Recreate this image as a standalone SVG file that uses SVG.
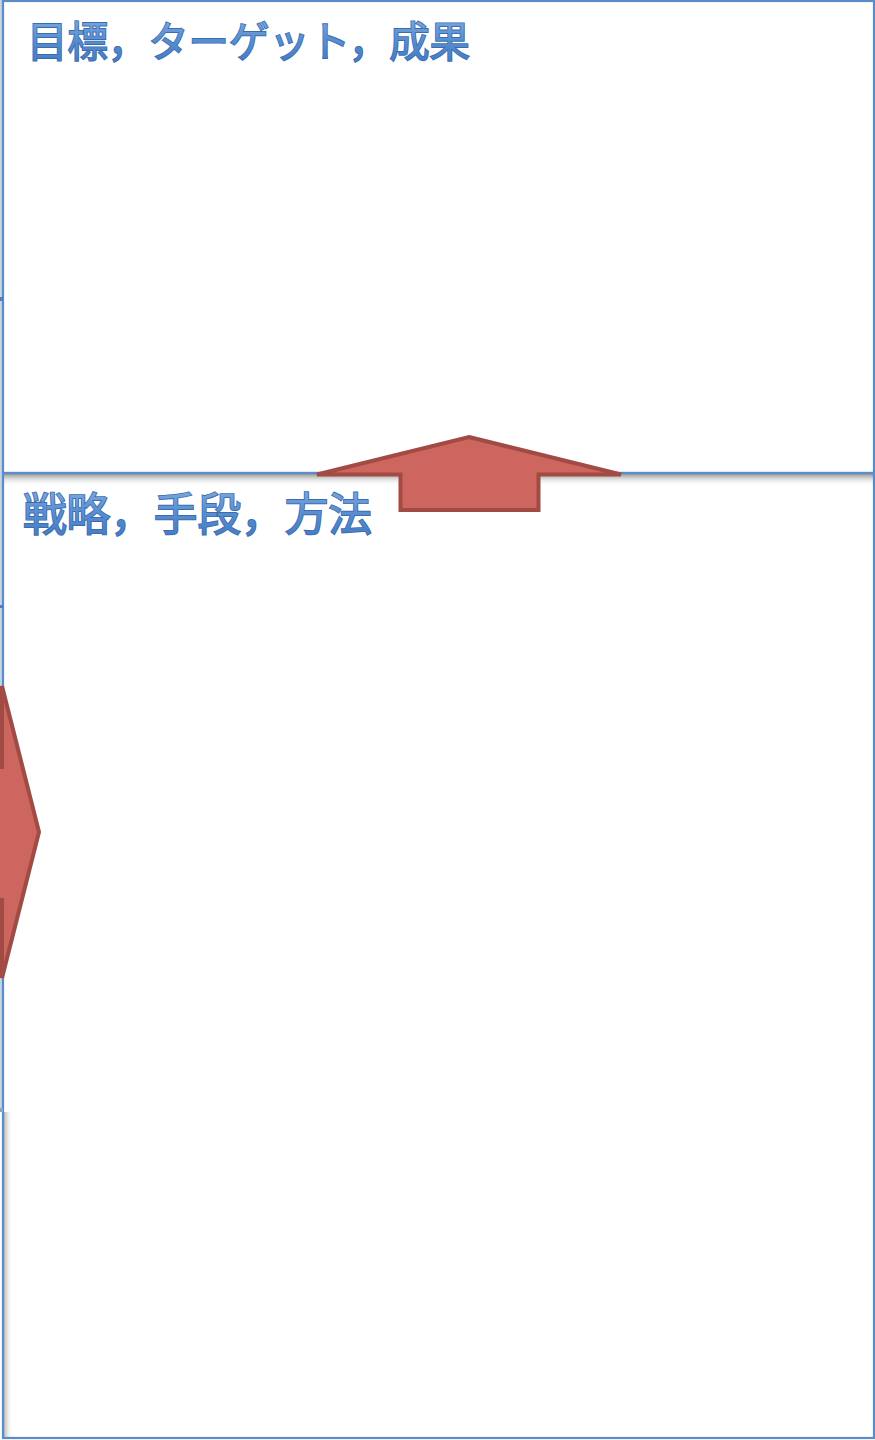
<svg xmlns="http://www.w3.org/2000/svg" width="875" height="1440" viewBox="0 0 875 1440">
<style>
.panel{stroke:#5a8cca;stroke-width:2.2}
.title{font-family:"Noto Sans CJK JP","Noto Sans CJK SC",sans-serif;font-weight:400;fill:url(#tg);stroke:#3a6db0;stroke-width:1.8;paint-order:stroke}
.arrow{fill:#cd665f;stroke:#a24a44;stroke-width:4;stroke-linejoin:miter}
</style>
<defs>
<linearGradient id="tg" x1="0" y1="0" x2="0" y2="1">
<stop offset="0" stop-color="#8db4e4"/>
<stop offset="0.5" stop-color="#5a8fd0"/>
<stop offset="1" stop-color="#3f76bd"/>
</linearGradient>
<linearGradient id="sh" x1="0" y1="0" x2="0" y2="1">
<stop offset="0" stop-color="#8c8c8c" stop-opacity="0.9"/>
<stop offset="1" stop-color="#ffffff" stop-opacity="0"/>
</linearGradient>
<linearGradient id="shl" x1="0" y1="0" x2="1" y2="0">
<stop offset="0" stop-color="#b0b0b0" stop-opacity="0.9"/>
<stop offset="1" stop-color="#ffffff" stop-opacity="0"/>
</linearGradient>
</defs>
<rect x="0" y="0" width="875" height="1440" fill="#ffffff"/>
<rect x="0" y="0" width="2" height="1112" fill="#c7d3e2"/>
<g id="goals">
<rect class="panel" x="3" y="1" width="871" height="472" fill="#ffffff"/>
<text class="title" x="27" y="57" font-size="42" textLength="443" lengthAdjust="spacingAndGlyphs">目標，ターゲット，成果</text>
</g>
<g id="strategy">
<rect x="4" y="474" width="869" height="12" fill="url(#sh)"/>
<rect x="4" y="1112" width="9" height="325" fill="url(#shl)"/>
<rect class="panel" x="3" y="473" width="871" height="965" fill="none"/>
<text class="title" x="23" y="531" font-size="45" textLength="349" lengthAdjust="spacingAndGlyphs">戦略，手段，方法</text>
</g>
<rect x="0" y="297" width="3" height="4" fill="#4f7fbf"/>
<rect x="0" y="605" width="3" height="3" fill="#4f7fbf"/>
<rect x="0" y="1108" width="3" height="4" fill="#8aa6c8"/>
<g id="connectors">
<path class="arrow" d="M469,437 L621,474.5 L538.5,474.5 L538.5,510 L400.5,510 L400.5,474.5 L317,474.5 Z"/>
<path class="arrow" d="M2,686 L39,832 L2,978 L2,900 L-50,900 L-50,767 L2,767 Z"/>
</g>
</svg>
